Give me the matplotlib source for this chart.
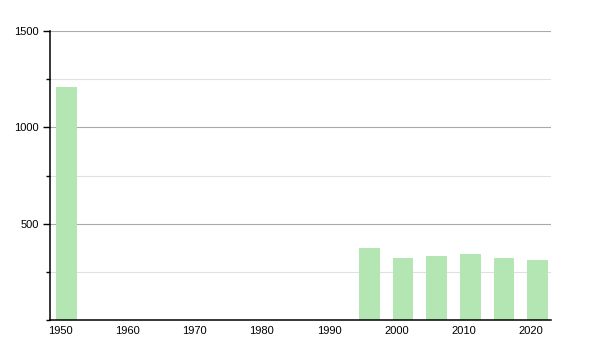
import matplotlib
matplotlib.use('Agg')
import matplotlib.pyplot as plt
from matplotlib.ticker import MultipleLocator

plt.rcParams['font.family'] = ['Liberation Sans', 'DejaVu Sans']

# population per census year
years  = [1951, 1996, 2001, 2006, 2011, 2016, 2021]
values = [1208, 374, 322, 332, 342, 322, 311]
xticks = [1950, 1960, 1970, 1980, 1990, 2000, 2010, 2020]
yticks = [500, 1000, 1500]

fig = plt.figure(figsize=(6, 3.5), dpi=100)
ax = fig.add_axes([50/600, 1 - 320/350, 501/600, 289/350])

ax.bar(years, values, width=3.1, color='#b3e6b3', zorder=2)

ax.set_xlim(1948.5, 2023)
ax.set_ylim(0, 1500)
ax.set_xticks(xticks)
ax.set_yticks(yticks)
ax.yaxis.set_minor_locator(MultipleLocator(250))

ax.grid(True, which='major', axis='y', color='#aaaaaa', linewidth=0.8, zorder=1)
ax.grid(True, which='minor', axis='y', color='#e0e0e0', linewidth=0.8, zorder=1)

for s in ['top', 'right']:
    ax.spines[s].set_visible(False)
ax.spines['left'].set_linewidth(1.1)
ax.spines['bottom'].set_linewidth(1.1)

ax.tick_params(axis='x', length=0, pad=4, labelsize=8)
ax.tick_params(axis='y', which='major', length=5, width=1, pad=3, labelsize=8)
ax.tick_params(axis='y', which='minor', length=3, width=1)

fig.savefig('out.png', dpi=100)
